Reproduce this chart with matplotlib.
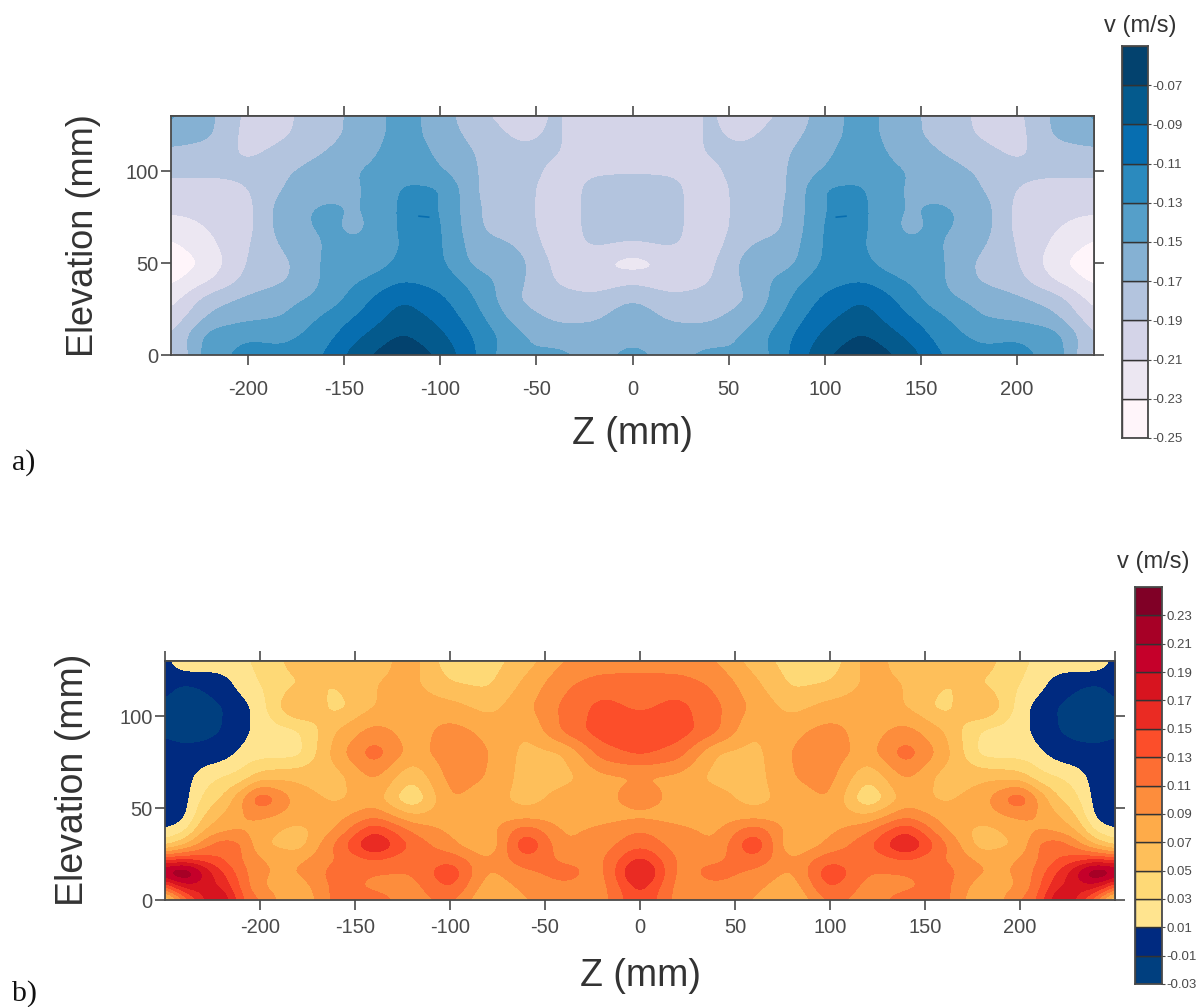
import matplotlib
matplotlib.use('Agg')
from matplotlib import pyplot as plt
from matplotlib.colors import ListedColormap, BoundaryNorm
import numpy as np

plt.rcParams['font.family'] = ['Liberation Sans', 'DejaVu Sans']
plt.rcParams['axes.unicode_minus'] = False

W, H = 1202, 1007
DARK = '#4a4a4a'

# panel a, half width, mirrored about Z = 0
z_a = [0, 20, 40, 60, 80, 100, 120, 140, 160, 180, 200, 220, 240]
y_a = [130, 120, 110, 100, 90, 80, 70, 60, 50, 40, 30, 20, 10, 0]
v_a = [
    [-.200, -.200, -.187, -.200, -.187, -.160, -.140, -.165, -.175, -.195, -.197, -.165, -.145],
    [-.200, -.200, -.187, -.195, -.178, -.160, -.140, -.165, -.175, -.193, -.200, -.165, -.160],
    [-.200, -.200, -.188, -.186, -.172, -.155, -.135, -.160, -.170, -.183, -.195, -.180, -.175],
    [-.192, -.193, -.196, -.178, -.172, -.148, -.135, -.148, -.160, -.172, -.185, -.185, -.185],
    [-.180, -.183, -.204, -.178, -.175, -.125, -.127, -.152, -.155, -.168, -.192, -.200, -.200],
    [-.180, -.183, -.204, -.178, -.172, -.128, -.125, -.152, -.147, -.155, -.198, -.205, -.205],
    [-.180, -.183, -.204, -.178, -.172, -.125, -.125, -.155, -.147, -.155, -.198, -.208, -.220],
    [-.193, -.186, -.203, -.170, -.165, -.125, -.128, -.148, -.148, -.165, -.192, -.215, -.235],
    [-.225, -.205, -.197, -.160, -.160, -.125, -.125, -.148, -.145, -.175, -.187, -.225, -.248],
    [-.193, -.206, -.192, -.165, -.140, -.118, -.110, -.128, -.147, -.172, -.183, -.212, -.235],
    [-.168, -.182, -.181, -.172, -.133, -.105, -.088, -.115, -.145, -.155, -.165, -.178, -.220],
    [-.160, -.173, -.175, -.160, -.125, -.095, -.080, -.105, -.125, -.150, -.155, -.165, -.205],
    [-.155, -.162, -.160, -.145, -.115, -.085, -.065, -.090, -.118, -.135, -.130, -.140, -.190],
    [-.143, -.157, -.143, -.152, -.113, -.072, -.055, -.072, -.110, -.125, -.125, -.135, -.200],
]
speck_z = [106, 111]
speck_y = [75, 75.5]
levels_a = [-.25, -.23, -.21, -.19, -.17, -.15, -.13, -.11, -.09, -.07, -.05]
colors_a = ['#fff5fa', '#ece7f2', '#d4d4e8', '#b3c4de', '#85b1d3',
            '#559fc9', '#2b8abe', '#076eb0', '#045a8d', '#03426e']
labels_a = ['-0.25', '-0.23', '-0.21', '-0.19', '-0.17', '-0.15', '-0.13', '-0.11', '-0.09', '-0.07']

# panel b, half width, mirrored about Z = 0
z_b = [0, 20, 40, 60, 80, 100, 120, 140, 160, 180, 200, 210, 220, 230, 240, 250]
y_b = [130, 118, 105, 92, 80, 67, 55, 46, 38, 30, 22, 15, 7, 0]
v_b = [
    [.100, .095, .090, .060, .040, .035, .080, .060, .065, .060, .035, .025, .025, .025, .030, .000],
    [.118, .120, .105, .075, .045, .050, .075, .070, .050, .050, .030, .020, -.003, -.008, -.012, -.005],
    [.125, .137, .115, .085, .062, .078, .080, .070, .040, .078, .020, -.001, -.012, -.015, -.018, -.012],
    [.147, .142, .115, .070, .085, .098, .080, .098, .070, .025, .020, .000, -.011, -.015, -.018, -.012],
    [.135, .120, .068, .062, .092, .102, .080, .125, .080, .020, .020, .015, -.003, -.005, -.005, -.005],
    [.088, .085, .062, .060, .090, .098, .050, .095, .060, .065, .060, .035, .030, .020, -.001, -.003],
    [.106, .080, .080, .060, .080, .092, .025, .080, .065, .080, .135, .085, .050, .035, -.001, -.012],
    [.083, .080, .080, .080, .080, .080, .070, .105, .080, .080, .095, .090, .070, .050, .000, -.005],
    [.110, .095, .085, .125, .080, .085, .105, .150, .090, .060, .080, .090, .085, .070, .020, .010],
    [.125, .100, .090, .155, .065, .095, .125, .180, .115, .055, .072, .115, .125, .100, .065, .040],
    [.160, .105, .105, .125, .090, .125, .115, .130, .110, .085, .090, .110, .130, .140, .150, .140],
    [.190, .100, .120, .105, .085, .150, .110, .110, .120, .090, .090, .120, .150, .190, .250, .220],
    [.160, .100, .105, .095, .075, .135, .100, .105, .118, .075, .090, .125, .170, .180, .180, .120],
    [.150, .100, .090, .090, .065, .115, .100, .120, .120, .065, .110, .130, .200, .170, .110, .030],
]
levels_b = [-.03, -.01, .01, .03, .05, .07, .09, .11, .13, .15, .17, .19, .21, .23, .25]
colors_b = ['#003f7f', '#002a80', '#ffe48f', '#fed976', '#febf5a', '#feab49', '#fd8d3c',
            '#fd6e33', '#fc4e2a', '#ea2b23', '#d7141f', '#c5002a', '#a70026', '#800026']
labels_b = ['-0.03', '-0.01', '0.01', '0.03', '0.05', '0.07', '0.09', '0.11', '0.13',
            '0.15', '0.17', '0.19', '0.21', '0.23']

xticks = [-200, -150, -100, -50, 0, 50, 100, 150, 200]
yticks = [0, 50, 100]


def box(l, t, r, b):
    return [l / W, 1 - b / H, (r - l) / W, (b - t) / H]


def mirror(z, v):
    z = np.array(z)
    v = np.array(v)
    return np.r_[-z[:0:-1], z], np.hstack([v[:, :0:-1], v])


def soften(a, sigma, axis):
    # gaussian along one axis, edges held, only rounds the drawn contour lines
    n = int(3 * sigma)
    k = np.exp(-0.5 * (np.arange(-n, n + 1) / sigma) ** 2)
    k /= k.sum()
    return np.apply_along_axis(lambda r: np.convolve(np.pad(r, n, mode='edge'), k, mode='valid'), axis, a)


def smooth_field(zz, y, vv, sz, sy):
    y = np.array(y)[::-1]
    vv = vv[::-1]
    fz = np.arange(zz[0], zz[-1] + 1, 1.0)
    fy = np.arange(y[0], y[-1] + 1, 1.0)
    f = np.array([np.interp(fz, zz, r) for r in vv])
    f = np.array([np.interp(fy, y, c) for c in f.T]).T
    return fz, fy, soften(soften(f, sz, 1), sy, 0)


def panel(fig, rect, cbrect, z, y, v, levels, colors, cblabels, xlim, top_ticks, pad, sz, sy):
    cmap = ListedColormap(colors)
    norm = BoundaryNorm(levels, cmap.N)
    zz, vv = mirror(z, v)
    fz, fy, fv = smooth_field(zz, y, vv, sz, sy)
    ax = fig.add_axes(box(*rect))
    ax.contourf(fz, fy, fv, levels=levels, cmap=cmap, norm=norm, extend='both', antialiased=False)
    ax.set_xlim(*xlim)
    ax.set_ylim(0, 130)
    ax.set_xticks(xticks)
    ax.set_yticks(yticks)
    ax.tick_params(axis='x', length=7, width=1.2, color=DARK, labelcolor=DARK, labelsize=14.5, pad=pad)
    ax.tick_params(axis='y', length=7, width=1.2, color=DARK, labelcolor=DARK, labelsize=14.5, pad=2)
    top = ax.secondary_xaxis('top')
    top.set_xticks(top_ticks)
    top.set_xticklabels([])
    top.tick_params(length=7, width=1.2, color=DARK)
    right = ax.secondary_yaxis('right')
    right.set_yticks(yticks)
    right.set_yticklabels([])
    right.tick_params(length=7, width=1.2, color=DARK)
    for a in (ax, top, right):
        for s in a.spines.values():
            s.set_color(DARK)
            s.set_linewidth(1.3)

    cax = fig.add_axes(box(*cbrect))
    for i, c in enumerate(colors):
        cax.barh(i, 1, height=1, left=0, align='edge', color=c, edgecolor='#333333', linewidth=1.0)
    cax.set_xlim(0, 1)
    cax.set_ylim(0, len(colors))
    cax.set_xticks([])
    cax.yaxis.tick_right()
    cax.set_yticks(range(len(cblabels)))
    cax.set_yticklabels(cblabels)
    cax.tick_params(axis='y', length=2, width=0.8, color=DARK, labelcolor=DARK, labelsize=9.5, pad=1)
    for s in cax.spines.values():
        s.set_color(DARK)
        s.set_linewidth(1.3)
    return ax


fig = plt.figure(figsize=(W / 100, H / 100), dpi=100)

ax_a = panel(fig, (171, 116, 1094, 355), (1122, 46, 1148, 438), z_a, y_a, v_a, levels_a, colors_a, labels_a,
             (-240, 240), xticks, 11, 5, 3.5)
ax_a.plot(speck_z, speck_y, color='#076eb0', lw=1.2)
ax_a.plot(-np.array(speck_z), speck_y, color='#076eb0', lw=1.2)
panel(fig, (165, 661, 1115, 900), (1135, 587, 1162, 984), z_b, y_b, v_b, levels_b, colors_b, labels_b,
      (-250, 250), [-250] + xticks + [250], 6, 4, 2.5)


def t(x, y, s, **kw):
    fig.text(x / W, 1 - y / H, s, ha='center', va='center', color='#333333', **kw)


t(84, 236, 'Elevation (mm)', rotation=90, fontsize=26)
t(632, 434, 'Z (mm)', fontsize=27)
t(73, 780, 'Elevation (mm)', rotation=90, fontsize=27)
t(640, 976, 'Z (mm)', fontsize=27)
t(1140, 26, 'v (m/s)', fontsize=17)
t(1153, 562, 'v (m/s)', fontsize=17)
fig.text(12 / W, 1 - 463 / H, 'a)', family='Liberation Serif', fontsize=21.5, va='center', color='#111111')
fig.text(12 / W, 1 - 994 / H, 'b)', family='Liberation Serif', fontsize=21.5, va='center', color='#111111')

plt.savefig('out.png', dpi=100)
